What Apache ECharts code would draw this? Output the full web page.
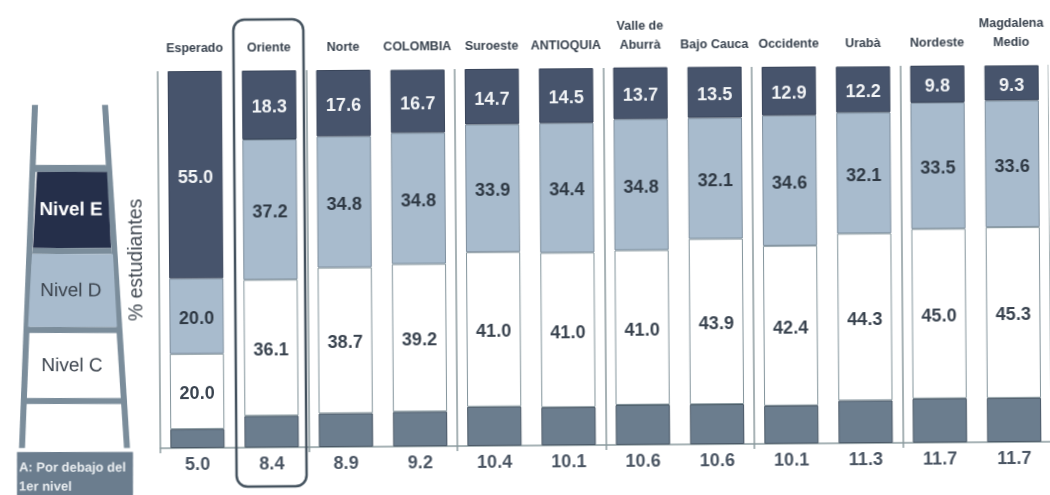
<!DOCTYPE html>
<html>
<head>
<meta charset="utf-8">
<script src="https://cdn.jsdelivr.net/npm/echarts@6/dist/echarts.min.js"></script>
<style>
html,body{margin:0;padding:0;background:#fff;overflow:hidden;width:1050px;height:495px}
#c{width:1050px;height:495px;transform:rotate(-0.42deg);transform-origin:604px 257px}
</style>
</head>
<body>
<div id="c"></div>
<script>
var categories = ['Esperado','Oriente','Norte','COLOMBIA','Suroeste','ANTIOQUIA','Valle de\nAburrà','Bajo Cauca','Occidente','Urabà','Nordeste','Magdalena\nMedio'];
var nivelE = [55.0,18.3,17.6,16.7,14.7,14.5,13.7,13.5,12.9,12.2,9.8,9.3];
var nivelD = [20.0,37.2,34.8,34.8,33.9,34.4,34.8,32.1,34.6,32.1,33.5,33.6];
var nivelC = [20.0,36.1,38.7,39.2,41.0,41.0,41.0,43.9,42.4,44.3,45.0,45.3];
var nivelA = [5.0,8.4,8.9,9.2,10.4,10.1,10.6,10.6,10.1,11.3,11.7,11.7];

var FONT = '"Liberation Sans", Arial, sans-serif';
var cE = '#47546c', cD = '#a8bbcd', cC = '#ffffff', cA = '#6b7d8e';
var rail = '#7b8d9b', dark = '#39434f';
var fmt = function (p) { return p.value.toFixed(1); };

function serie(name, data, color, border, labelColor, pos, dist, off) {
  return {
    name: name, type: 'bar', stack: 'total', data: data, barCategoryGap: '27%',
    itemStyle: { color: color, borderColor: border, borderWidth: 1 },
    label: { show: true, position: pos, distance: dist, offset: off, formatter: fmt, color: labelColor,
             fontFamily: FONT, fontWeight: 'bold', fontSize: 18 }
  };
}
function poly(pts, fill) {
  return { type: 'polygon', shape: { points: pts }, style: { fill: fill } };
}
function txt(x, y, t, size, color, weight) {
  return { type: 'text', x: x, y: y, style: { text: t, fill: color, fontFamily: FONT,
    fontSize: size, fontWeight: weight || 'normal', align: 'center', verticalAlign: 'middle' } };
}
var theta = 0.42 * Math.PI / 180;

var chart = echarts.init(document.getElementById('c'), null, { renderer: 'canvas' });
chart.setOption({
  animation: false,
  backgroundColor: 'transparent',
  grid: { left: 159, top: 68, width: 891, height: 377 },
  xAxis: [
    { type: 'category', data: categories, position: 'bottom',
      axisLine: { show: true, lineStyle: { color: '#8b9a9e', width: 1.5 } },
      axisTick: { show: true, length: 5, lineStyle: { color: '#8b9a9e', width: 1.5 } },
      axisLabel: { show: false },
      splitLine: { show: true, lineStyle: { color: '#8b9a9e', width: 1.5 } } },
    { type: 'category', data: categories, position: 'top',
      axisLine: { show: false }, axisTick: { show: false },
      axisLabel: { show: true, interval: 0, margin: 13, color: dark, fontFamily: FONT,
                   fontWeight: 'bold', fontSize: 12.5, lineHeight: 19 } }
  ],
  yAxis: { type: 'value', min: 0, max: 100, axisLabel: { show: false }, axisTick: { show: false },
           axisLine: { show: false }, splitLine: { show: false },
           name: '% estudiantes', nameLocation: 'middle', nameGap: 12, nameRotate: 90,
           nameTextStyle: { color: '#444c55', fontFamily: FONT, fontSize: 19.5 } },
  series: [
    serie('A', nivelA, cA, '#4a5866', '#4a5563', 'bottom', 8, [0, 0]),
    serie('Nivel C', nivelC, cC, '#84959c', '#39434f', 'inside', 0, [0, 3]),
    serie('Nivel D', nivelD, cD, '#7e8f9e', '#2f3944', 'inside', 0, [0, 3]),
    serie('Nivel E', nivelE, cE, '#39455a', '#f2f4f6', 'inside', 0, [0, 3])
  ],
  graphic: [
    { type: 'rect', z: 100, shape: { x: 235, y: 17, width: 70, height: 467, r: 11 },
      style: { fill: 'none', stroke: '#45535f', lineWidth: 2.5 } },
    { type: 'group', rotation: -theta, originX: 604, originY: 257, children: [
      poly([[32,105],[38,105],[25,448],[19,448]], rail),
      poly([[102,105],[108,105],[130,448],[124,448]], rail),
      poly([[35,165],[106,165],[107,172],[34,172]], rail),
      poly([[37,172],[107,172],[111,248],[33,248]], '#252f4a'),
      poly([[33,248],[111,248],[112,254],[32,254]], rail),
      poly([[32,254],[113,254],[117,327],[28,327]], cD),
      poly([[28,327],[117,327],[118,333],[28,333]], rail),
      poly([[25,398],[122,398],[123,404],[24,404]], rail),
      txt(71, 210, 'Nivel E', 19, '#ffffff', 'bold'),
      txt(71, 291, 'Nivel D', 19, '#3a424c'),
      txt(72, 366, 'Nivel C', 19, '#3a424c'),
      { type: 'rect', shape: { x: 17, y: 452, width: 116, height: 50 }, style: { fill: cA } },
      { type: 'text', x: 19, y: 468, style: { text: 'A: Por debajo del', fill: '#e9edf0', fontFamily: FONT, fontSize: 13, fontWeight: 'bold', verticalAlign: 'middle' } },
      { type: 'text', x: 19, y: 487, style: { text: '1er nivel', fill: '#e9edf0', fontFamily: FONT, fontSize: 13, fontWeight: 'bold', verticalAlign: 'middle' } }
    ] }
  ]
});
</script>
</body>
</html>
